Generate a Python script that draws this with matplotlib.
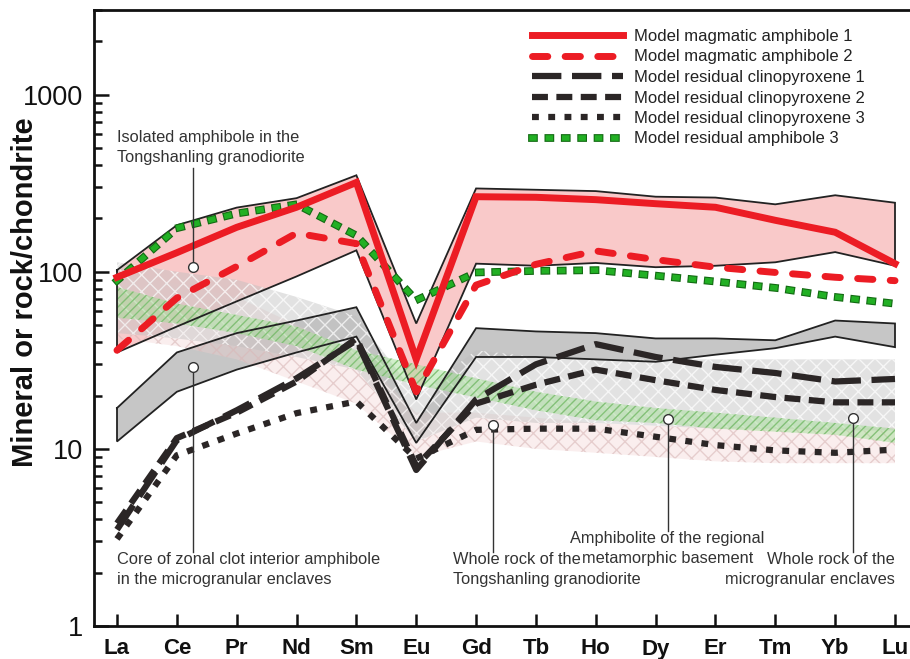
import matplotlib
matplotlib.use("Agg")
import matplotlib.pyplot as plt
import matplotlib.patheffects as pe
import matplotlib.transforms as mtransforms
from matplotlib.ticker import LogLocator, FixedLocator, NullFormatter
import numpy as np

plt.rcParams['font.family'] = ['Liberation Sans', 'DejaVu Sans']
plt.rcParams['hatch.linewidth'] = 1.0

ree = ['La', 'Ce', 'Pr', 'Nd', 'Sm', 'Eu', 'Gd', 'Tb', 'Ho', 'Dy', 'Er', 'Tm', 'Yb', 'Lu']

# Model curves
amph1 = [93, 128, 178, 231, 319, 32, 265, 263, 255, 242, 231, 195, 167, 111]
amph2 = [36, 71, 107, 165, 144, 21, 84, 110, 131, 117, 106, 99, 93, 89]
cpx1 = [3.5, 11.2, 16.5, 25, 41, 7.6, 19, 30, 39, 33, 29, 26.8, 24, 24.8]
cpx2 = [3.8, 11.5, 16, 24, 42, 8.0, 18, 23, 28, 24.4, 21.5, 19.6, 18.3, 18.3]
cpx3 = [3.1, 9.2, 12.2, 15.9, 18.5, 8.8, 12.8, 13, 13, 11.7, 10.5, 9.8, 9.5, 9.9]
amph_res3 = [89, 176, 213, 240, 160, 69, 99, 101, 102, 95, 88, 81, 72, 66]

# Fields (upper / lower limits)
red_hi = [102, 183, 230, 260, 350, 51, 295, 290, 285, 265, 262, 240, 270, 245]
red_lo = [35, 49, 68, 94, 132, 19, 111, 108, 112, 106, 108, 113, 129, 108]
core_hi = [17, 35, 45, 53, 63, 14, 48, 46, 45, 42, 42, 41, 53, 51]
core_lo = [11, 21, 28, 35, 43, 10.8, 33, 33, 32, 31, 34, 37, 43, 37.5]
wr_encl_hi = [113, 100, 90, 72, 56, 20, 36, 33, 32, 32, 32, 32, 32, 32]
wr_encl_lo = [45, 42, 38, 33, 28, 11, 15, 14, 14, 13.5, 13, 13, 12.7, 12.7]
amphibolite_hi = [82, 66, 57, 49, 36, 30, 25, 21, 18.5, 17, 16, 15, 14, 13]
amphibolite_lo = [55, 51, 45, 38, 28, 23, 19.5, 16.5, 14.5, 14, 13, 12.5, 12, 10.8]
wr_gd_hi = [98, 85, 72, 50, 35, 16, 16, 15, 14, 13.5, 13.3, 13.2, 13.2, 13.2]
wr_gd_lo = [42, 38, 32, 24, 18, 9, 11, 10, 9.5, 9, 8.5, 8.3, 8.3, 8.3]

legend_labels = ['Model magmatic amphibole 1', 'Model magmatic amphibole 2',
                 'Model residual clinopyroxene 1', 'Model residual clinopyroxene 2',
                 'Model residual clinopyroxene 3', 'Model residual amphibole 3']

x = np.arange(len(ree))

fig = plt.figure(figsize=(9.10, 6.59), dpi=100)
ax = fig.add_axes([94/910, 33/659, 818/910, 616/659])
ax.set_yscale('log')
ax.set_xlim(-23/59.85, 13 + 17/59.85)
ax.set_ylim(1, 3000)

# Red field and core field (solid fills)
ax.fill_between(x, red_lo, red_hi, facecolor='#f9c9c9', edgecolor='none', zorder=1)
ax.fill_between(x, core_lo, core_hi, facecolor='#c6c6c6', edgecolor='none', zorder=1.2)

# Hatched fields (semi-transparent)
ax.fill_between(x, wr_gd_lo, wr_gd_hi, facecolor=(0.95, 0.82, 0.82, 0.35),
                edgecolor=(0.85, 0.72, 0.72, 0.6), hatch='xx', linewidth=0, zorder=2)
ax.fill_between(x, wr_encl_lo, wr_encl_hi, facecolor=(0.75, 0.75, 0.75, 0.45),
                edgecolor=(1, 1, 1, 0.7), hatch='xx', linewidth=0, zorder=2.1)
ax.fill_between(x, amphibolite_lo, amphibolite_hi, facecolor=(0.65, 0.88, 0.6, 0.5),
                edgecolor=(0.45, 0.72, 0.4, 0.8), hatch='////', linewidth=0, zorder=2.2)

# Outlines of red and core fields
for lo, hi in [(red_lo, red_hi), (core_lo, core_hi)]:
    xs = np.concatenate([x, x[::-1], x[:1]])
    ys = np.concatenate([hi, lo[::-1], hi[:1]])
    ax.plot(xs, ys, color='#222222', lw=1.3, zorder=3, solid_joinstyle='miter')

# Model lines
red = '#ec1c24'
dark = '#2b2626'
l1, = ax.plot(x, amph1, color=red, lw=5, solid_joinstyle='miter', zorder=6)
l2, = ax.plot(x, amph2, color=red, lw=5, dashes=(2.2, 2.5), dash_capstyle='round', zorder=6)
l3, = ax.plot(x, cpx1, color=dark, lw=4.5, dashes=(4.7, 1.7), zorder=5)
l4, = ax.plot(x, cpx2, color=dark, lw=4.5, dashes=(2.55, 1.35), zorder=5)
l5, = ax.plot(x, cpx3, color=dark, lw=4.5, dashes=(1.1, 1.5), zorder=5)
l6, = ax.plot(x, amph_res3, color='#22b024', lw=4.0, dashes=(0.35, 2.6),
              dash_capstyle='projecting', zorder=5.5,
              path_effects=[pe.Stroke(linewidth=5.6, foreground='#136b13', capstyle='projecting'),
                            pe.Normal()])

leg = ax.legend([l1, l2, l3, l4, l5, l6], legend_labels, loc='upper left',
                bbox_to_anchor=(532/910, 1 - 29/659), bbox_transform=fig.transFigure,
                frameon=False, fontsize=12, handlelength=5.45, handletextpad=0.66,
                labelspacing=0.33, borderpad=0, borderaxespad=0)
for t in leg.get_texts():
    t.set_color('#222222')

# Annotations
ann_color = '#333333'
ann_fs = 11.8
line_step = 20 / 100.0  # inches between text lines
ann = [
    # circle x, circle y, line end y, text x, text y, lines, ha
    (1.27, 106, 383, 0.0, 630, ['Isolated amphibole in the', 'Tongshanling granodiorite'], 'left'),
    (1.27, 28.9, 2.62, 0.0, 2.6, ['Core of zonal clot interior amphibole', 'in the microgranular enclaves'], 'left'),
    (6.28, 13.6, 2.62, 5.61, 2.6, ['Whole rock of the', 'Tongshanling granodiorite'], 'left'),
    (9.2, 14.7, 3.45, 9.2, 3.42, ['Amphibolite of the regional', 'metamorphic basement'], 'center'),
    (12.3, 14.9, 2.62, 13.0, 2.6, ['Whole rock of the', 'microgranular enclaves'], 'right'),
]
for cx, cy, ly, tx, ty, lines, ha in ann:
    ax.plot([cx, cx], [cy, ly], color=ann_color, lw=1.0, zorder=7)
    ax.plot([cx], [cy], marker='o', ms=7, mfc='white', mec=ann_color, mew=1.0, zorder=8)
    for k, line in enumerate(lines):
        tr = ax.transData + mtransforms.ScaledTranslation(0, -k * line_step, fig.dpi_scale_trans)
        ax.text(tx, ty, line, ha=ha, va='top', fontsize=ann_fs, color=ann_color,
                transform=tr, zorder=8)

# Axes styling
for s in ax.spines.values():
    s.set_linewidth(2.0)
    s.set_color('#111111')
ax.spines['right'].set_visible(False)

ax.set_xticks(x)
ax.set_xticklabels(ree)
for lab in ax.get_xticklabels():
    lab.set_fontweight('bold')
    lab.set_fontsize(16)
ax.tick_params(axis='x', direction='in', length=9, width=1.8, pad=9, colors='#111111')

ax.yaxis.set_major_locator(FixedLocator([1, 10, 100, 1000]))
ax.set_yticklabels(['1', '10', '100', '1000'])
ax.yaxis.set_minor_locator(LogLocator(base=10, subs=np.arange(2, 10)))
ax.yaxis.set_minor_formatter(NullFormatter())
ax.tick_params(axis='y', which='major', direction='in', length=11, width=1.8,
               labelsize=19.5, pad=8, colors='#111111')
ax.tick_params(axis='y', which='minor', direction='in', length=6, width=1.8, colors='#111111')
ax.tick_params(top=False, right=False, which='both')

ax.set_ylabel('Mineral or rock/chondrite', fontsize=21, fontweight='bold',
              color='#111111')
ax.yaxis.set_label_coords((39 - 94) / 818, (626 - 292) / 616)

fig.savefig('out.png', dpi=100)
